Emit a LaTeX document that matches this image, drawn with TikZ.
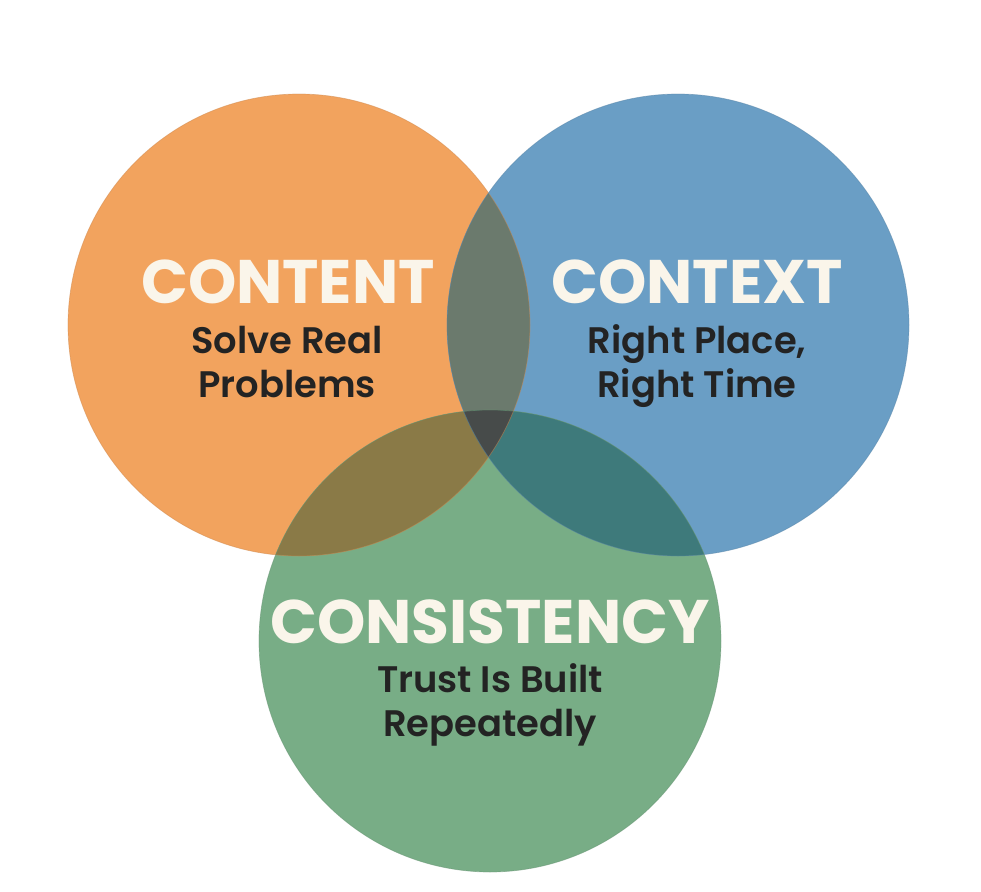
\documentclass[tikz,border=0pt]{standalone}
\usepackage{fontspec}
\newfontfamily\headfont{Poppins}
\newfontfamily\tagfont{Poppins}[UprightFont=* SemiBold]
\definecolor{contentorange}{HTML}{F2A35E}
\definecolor{contextblue}{HTML}{6A9EC5}
\definecolor{consistgreen}{HTML}{78AD86}
\definecolor{orangeblue}{HTML}{6B7A6D}
\definecolor{orangegreen}{HTML}{8A7A47}
\definecolor{bluegreen}{HTML}{3E7A7B}
\definecolor{allthree}{HTML}{474B4A}
\definecolor{headcream}{HTML}{FAF5EA}
\definecolor{tagdark}{HTML}{232323}
\usetikzlibrary{positioning}
\tikzset{
  headline/.style={font=\headfont\bfseries\fontsize{35}{40}\selectfont, text=headcream, anchor=base},
  tagline/.style={font=\tagfont\fontsize{21}{24.5}\selectfont, text=tagdark, align=center, anchor=base},
}

\begin{document}
\begin{tikzpicture}
  \useasboundingbox (0,0) rectangle (19.62,-17.84);
  \coordinate (cContent) at (5.98,-6.50);
  \coordinate (cContext) at (13.56,-6.50);
  \coordinate (cConsist) at (9.80,-12.82);

  % the three circles
  \fill[contentorange] (cContent) circle (4.62cm);
  \fill[contextblue] (cContext) circle (4.62cm);
  \fill[consistgreen] (cConsist) circle (4.62cm);

  % overlaps
  \begin{scope}
    \clip (cContent) circle (4.62cm);
    \fill[orangeblue] (cContext) circle (4.62cm);
    \fill[orangegreen] (cConsist) circle (4.62cm);
  \end{scope}
  \begin{scope}
    \clip (cContext) circle (4.62cm);
    \fill[bluegreen] (cConsist) circle (4.62cm);
    \clip (cConsist) circle (4.62cm);
    \fill[allthree] (cContent) circle (4.62cm);
  \end{scope}

  % thin rims
  \draw[contentorange!85!black, line width=0.4pt, opacity=0.5] (cContent) circle (4.62cm);
  \draw[contextblue!85!black, line width=0.4pt, opacity=0.5] (cContext) circle (4.62cm);
  \draw[consistgreen!85!black, line width=0.4pt, opacity=0.5] (cConsist) circle (4.62cm);

  % Content
  \node[headline] (contentHead) at (5.76,-6.06) {CONTENT};
  \node[tagline] (contentTag) at (5.74,-7.94) {Solve Real\\Problems};

  % Context
  \node[headline] (contextHead) at (13.94,-6.06) {CONTEXT};
  \node[tagline] (contextTag) at (13.94,-7.94) {Right Place,\\Right Time};

  % Consistency
  \node[headline] (consistHead) at (9.80,-12.86) {CONSISTENCY};
  \node[tagline] (consistTag) at (9.80,-14.72) {Trust Is Built\\Repeatedly};
\end{tikzpicture}
\end{document}
